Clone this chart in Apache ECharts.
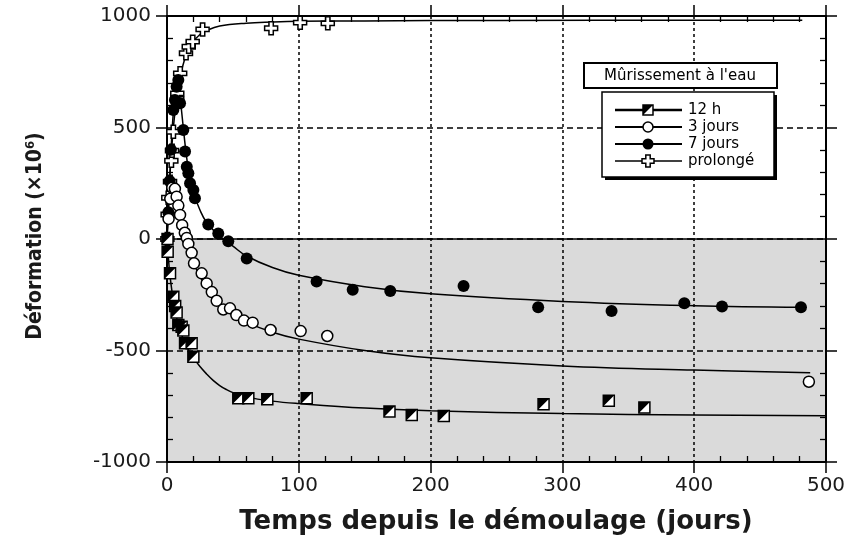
<!DOCTYPE html>
<html>
<head>
<meta charset="utf-8">
<script src="https://cdn.jsdelivr.net/npm/echarts@6/dist/echarts.min.js"></script>
<style>
  html, body { margin: 0; padding: 0; background: #ffffff; }
  #chart { width: 852px; height: 543px; }
</style>
</head>
<body>
<div id="chart"></div>
<script>
// Déformation (×10^6) en fonction du temps depuis le démoulage (jours)

// Axis ranges and major steps
const xMin = 0, xMax = 500, xStep = 100;
const yMin = -1000, yMax = 1000, yStep = 500;

// Measured points: [jours, déformation]
const pts12h = [
  [0.4, 0], [0.5, -57], [2.3, -154], [4.8, -259], [6.2, -300], [7.3, -330], [8.6, -386],
  [11.1, -393], [12.4, -410], [13.7, -468], [18.7, -468], [20, -528],
  [54.1, -714], [61.7, -714], [76.1, -719], [106, -714], [168.8, -774], [185.7, -789],
  [210, -794], [285.7, -741], [335.2, -725], [362.2, -756]
];
const pts3j = [
  [1.2, 90], [2.5, 180], [4, 230], [6, 225], [7.3, 190], [8.6, 150], [9.9, 108],
  [11.5, 62], [13.5, 28], [15, 5], [16.2, -22], [18.7, -62], [20.5, -109],
  [26.3, -154], [30.1, -199], [34, -238], [37.7, -277], [42.7, -316], [47.8, -311],
  [52.6, -341], [58.4, -366], [65, -375], [78.6, -408], [101.4, -413], [121.6, -435],
  [487, -640]
];
const pts7j = [
  [1, 120], [2, 260], [3, 400], [4.8, 578], [6, 623], [7.3, 683], [8.6, 713], [9.9, 609],
  [12.4, 489], [13.7, 392], [15, 324], [16.2, 295], [17.5, 250], [20, 220], [21.2, 183],
  [31.3, 65], [38.9, 25], [46.5, -10], [60.5, -87], [113.5, -191], [140.9, -228],
  [169.4, -233], [225, -211], [281.6, -306], [337.3, -323], [392.5, -288], [421.1, -303],
  [481, -306]
];
const ptsProl = [
  [0.3, 0], [0.5, 110], [1, 185], [2.3, 257], [3.3, 351], [3.8, 396], [4.8, 481],
  [7.8, 628], [7.8, 653], [10, 743], [14.4, 833], [16.5, 862], [19.5, 885], [27, 940],
  [79, 945], [101, 970], [122, 967]
];

// Fitted curves: [jours, déformation]
const fit12h = [
  [0, 0], [1, -80], [2, -150], [4, -245], [6, -315], [8, -370], [10, -410], [13, -458],
  [16, -495], [20, -532], [25, -572], [30, -605], [35, -634], [40, -657], [45, -675],
  [50, -689], [60, -708], [80, -727], [100, -738], [150, -758], [200, -770],
  [300, -783], [400, -789], [500, -793]
];
const fit3j = [
  [0, 0], [1, 120], [2, 200], [3, 235], [4.5, 235], [6, 205], [8, 150], [10, 95],
  [12, 45], [15, -20], [20, -105], [25, -168], [30, -218], [40, -290], [50, -338],
  [60, -373], [80, -418], [100, -449], [150, -500], [200, -533], [300, -569],
  [400, -588], [488, -600]
];
const fit7j = [
  [0, 0], [2, 260], [4, 500], [6, 640], [8, 705], [9, 690], [10, 635], [12, 520],
  [14, 410], [16, 320], [18, 255], [20, 208], [25, 130], [30, 75], [40, 12], [50, -32],
  [60, -75], [80, -128], [100, -163], [150, -214], [200, -246], [300, -280], [400, -299],
  [482, -306]
];
const fitProl = [
  [0, 0], [1, 150], [2, 260], [3, 360], [4, 440], [5, 510], [7, 615], [10, 725],
  [14, 815], [20, 885], [25, 917], [30, 935], [40, 955], [60, 968], [80, 973],
  [100, 976], [150, 978], [250, 980], [482, 981]
];

// Legend labels
const legendTitle = 'Mûrissement à l\'eau';
const legendNames = ['12 h', '3 jours', '7 jours', 'prolongé'];

const tickFont = 'DejaVu Sans';
const black = '#000000';
const crossPath = 'path://M4,0 L8,0 L8,4 L12,4 L12,8 L8,8 L8,12 L4,12 L4,8 L0,8 L0,4 L4,4 Z';
const trianglePath = 'path://M0,0 L10,0 L0,10 Z';

// Plot frame in pixels
const gridLeft = 167, gridRight = 26, gridTop = 16, gridBottom = 81;
const plotW = 852 - gridLeft - gridRight;
const plotH = 543 - gridTop - gridBottom;

function baseAxis(extra) {
  return Object.assign({
    type: 'value',
    z: 3,
    axisLine: { show: true, onZero: false, lineStyle: { color: black, width: 2 } },
    axisTick: { show: true, inside: false, length: 11, lineStyle: { color: black, width: 1.5 } },
    axisLabel: { show: false },
    splitLine: { show: false },
    minorTick: { show: false },
    minorSplitLine: { show: false }
  }, extra);
}
// Companion axis placed on the opposite edge so its outward minor ticks point into the plot
function minorAxis(extra) {
  return Object.assign({
    type: 'value',
    z: 3,
    axisLine: { show: false, onZero: false },
    axisTick: { show: false },
    axisLabel: { show: false },
    splitLine: { show: false },
    minorTick: { show: true, splitNumber: 5, length: 6, lineStyle: { color: black, width: 1.3 } }
  }, extra);
}

const xScale = { min: xMin, max: xMax, interval: xStep };
const yScale = { min: yMin, max: yMax, interval: yStep };

function curve(data) {
  return {
    type: 'line', data: data, smooth: 0.4, showSymbol: false,
    symbol: 'none', lineStyle: { color: black, width: 1.5 }, z: 5, silent: true, clip: false
  };
}
function dots(data, symbol, size, fill, border, z) {
  return {
    type: 'scatter', data: data, symbol: symbol, symbolSize: size, clip: false, z: z,
    itemStyle: { color: fill, borderColor: border ? black : fill, borderWidth: border ? 1.5 : 0, opacity: 1 }
  };
}

// Legend drawn with graphic primitives
const lgX0 = 615, lgX1 = 682, lgMx = 648, lgTx = 688;
const lgRows = [110, 127, 144, 161];
const legendGraphics = [
  { type: 'rect', shape: { x: 584, y: 63, width: 193, height: 25 },
    style: { fill: '#fff', stroke: black, lineWidth: 2 }, z: 20 },
  { type: 'text', x: 680, y: 76, z: 21,
    style: { text: legendTitle, font: '15px "DejaVu Sans"', fill: black, align: 'center', verticalAlign: 'middle' } },
  { type: 'rect', shape: { x: 605, y: 95, width: 172, height: 85 }, style: { fill: black }, z: 20 },
  { type: 'rect', shape: { x: 602, y: 92, width: 172, height: 85 },
    style: { fill: '#fff', stroke: black, lineWidth: 1.5 }, z: 21 }
];
const lgWidths = [2.5, 2, 2, 1.3];
lgRows.forEach(function (y, i) {
  legendGraphics.push({ type: 'line', shape: { x1: lgX0, y1: y, x2: lgX1, y2: y },
    style: { stroke: black, lineWidth: lgWidths[i] }, z: 22 });
  legendGraphics.push({ type: 'text', x: lgTx, y: y, z: 22,
    style: { text: legendNames[i], font: '15px "DejaVu Sans"', fill: black, align: 'left', verticalAlign: 'middle' } });
});
// 12 h marker
legendGraphics.push({ type: 'rect', shape: { x: lgMx - 5, y: lgRows[0] - 5, width: 10, height: 10 },
  style: { fill: '#fff', stroke: black, lineWidth: 1.5 }, z: 23 });
legendGraphics.push({ type: 'polygon', shape: { points: [[lgMx - 5, lgRows[0] - 5], [lgMx + 5, lgRows[0] - 5], [lgMx - 5, lgRows[0] + 5]] },
  style: { fill: black }, z: 24 });
// 3 jours marker
legendGraphics.push({ type: 'circle', shape: { cx: lgMx, cy: lgRows[1], r: 5 },
  style: { fill: '#fff', stroke: black, lineWidth: 1.5 }, z: 23 });
// 7 jours marker
legendGraphics.push({ type: 'circle', shape: { cx: lgMx, cy: lgRows[2], r: 5.5 },
  style: { fill: black }, z: 23 });
// prolongé marker
(function () {
  const cx = lgMx, cy = lgRows[3], a = 2.2, r = 6;
  legendGraphics.push({ type: 'polygon', z: 23,
    shape: { points: [[cx - a, cy - r], [cx + a, cy - r], [cx + a, cy - a], [cx + r, cy - a], [cx + r, cy + a],
      [cx + a, cy + a], [cx + a, cy + r], [cx - a, cy + r], [cx - a, cy + a], [cx - r, cy + a], [cx - r, cy - a], [cx - a, cy - a]] },
    style: { fill: '#fff', stroke: black, lineWidth: 1.5 } });
})();

// Axis titles
legendGraphics.push({ type: 'text', x: 496, y: 522, z: 20,
  style: { text: 'Temps depuis le démoulage (jours)', font: 'bold 26px "DejaVu Sans"', fill: '#1a1a1a',
    align: 'center', verticalAlign: 'middle' } });
legendGraphics.push({ type: 'text', x: 36, y: 236, rotation: Math.PI / 2, z: 20,
  style: { text: 'Déformation (×10{sup|6})', font: 'bold 21px "DejaVu Sans Condensed", "DejaVu Sans"', fill: '#1a1a1a',
    align: 'center', verticalAlign: 'middle',
    rich: { sup: { font: 'bold 13px "DejaVu Sans Condensed", "DejaVu Sans"', verticalAlign: 'top', padding: [0, 0, 10, 0], fill: '#1a1a1a' } } } });

const plainNumber = function (v) { return String(v); };

const chart = echarts.init(document.getElementById('chart'), null, { renderer: 'canvas' });
chart.setOption({
  animation: false,
  backgroundColor: '#ffffff',
  grid: { left: gridLeft, right: gridRight, top: gridTop, bottom: gridBottom, containLabel: false },
  xAxis: [
    baseAxis(Object.assign({ position: 'bottom',
      axisLabel: { show: true, margin: 14, color: '#1a1a1a', fontFamily: tickFont, fontSize: 20, formatter: plainNumber },
      splitLine: { show: true, lineStyle: { color: black, width: 1.5, type: [3, 3] } } }, xScale)),
    baseAxis(Object.assign({ position: 'top' }, xScale)),
    minorAxis(Object.assign({ position: 'top', offset: -plotH }, xScale)),
    minorAxis(Object.assign({ position: 'bottom', offset: -plotH }, xScale))
  ],
  yAxis: [
    baseAxis(Object.assign({ position: 'left',
      axisLabel: { show: true, margin: 16, color: '#1a1a1a', fontFamily: tickFont, fontSize: 20, formatter: plainNumber },
      splitLine: { show: true, lineStyle: { color: black, width: 1.5, type: [6, 4] } } }, yScale)),
    baseAxis(Object.assign({ position: 'right' }, yScale)),
    minorAxis(Object.assign({ position: 'right', offset: -plotW }, yScale)),
    minorAxis(Object.assign({ position: 'left', offset: -plotW }, yScale))
  ],
  graphic: legendGraphics,
  series: [
    {
      type: 'line', data: [], z: 1, silent: true,
      markArea: { silent: true, itemStyle: { color: '#dadada' },
        data: [[{ xAxis: xMin, yAxis: yMin }, { xAxis: xMax, yAxis: 0 }]] },
      markLine: { silent: true, symbol: 'none', label: { show: false },
        lineStyle: { color: black, type: 'solid', width: 1.5 }, data: [{ yAxis: 0 }] }
    },
    curve(fit12h), curve(fit3j), curve(fit7j), curve(fitProl),
    dots(ptsProl, crossPath, 13, '#ffffff', true, 6),
    dots(pts7j, 'circle', 12, black, false, 7),
    dots(pts3j, 'circle', 11, '#ffffff', true, 8),
    dots(pts12h, 'rect', 11, '#ffffff', true, 9),
    dots(pts12h, trianglePath, 11, black, false, 10)
  ]
});
</script>
</body>
</html>
